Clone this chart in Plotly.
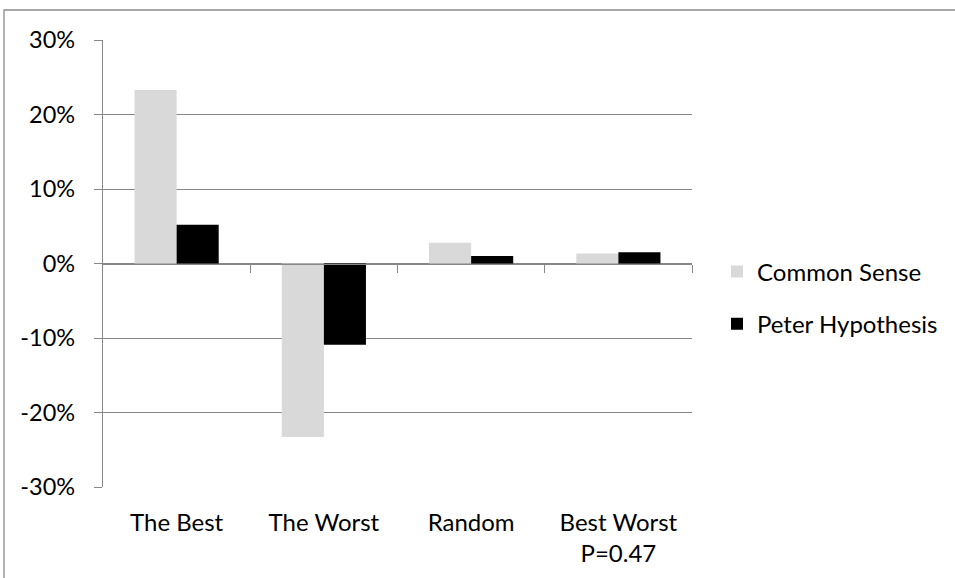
import plotly.graph_objects as go

categories = ["The Best", "The Worst", "Random", "Best Worst<br>P=0.47"]
common_sense = [0.233, -0.233, 0.028, 0.0135]
peter_hypothesis = [0.052, -0.109, 0.010, 0.015]
series_names = ["Common Sense", "Peter Hypothesis"]
y_ticks = [-0.3, -0.2, -0.1, 0.0, 0.1, 0.2, 0.3]
y_tick_labels = ["-30%", "-20%", "-10%", "0%", "10%", "20%", "30%"]

FONT = "Lato"
FS = 24
GRID = "#878787"

fig = go.Figure()
fig.add_trace(go.Bar(x=categories, y=common_sense, name=series_names[0],
                     marker=dict(color="#d9d9d9", line=dict(width=0)),
                     legendgroup="a"))
fig.add_trace(go.Bar(x=categories, y=peter_hypothesis, name=series_names[1],
                     marker=dict(color="#000000", line=dict(width=0)),
                     legendgroup="b"))
# invisible helper trace for the zero-line axis with boundary ticks
fig.add_trace(go.Scatter(x=[-0.5, 3.5], y=[0, 0], xaxis="x2", mode="lines",
                         line=dict(width=0), showlegend=False, hoverinfo="skip"))

L, R, T, B = 103, 263, 40, 91
pw = 955 - L - R
ph = 578 - T - B

fig.update_layout(
    width=955, height=578,
    margin=dict(l=L, r=R, t=T, b=B, pad=0),
    paper_bgcolor="white", plot_bgcolor="white",
    barmode="group", bargap=1.5 / 3.5, bargroupgap=0,
    font=dict(family=FONT, size=FS, color="#000000"),
    showlegend=True,
    legend=dict(x=(717 - L) / pw, y=(578 - B - 298) / ph, xanchor="left", yanchor="middle",
                traceorder="grouped", tracegroupgap=18,
                font=dict(family=FONT, size=FS, color="#000000"),
                itemwidth=30, bgcolor="rgba(0,0,0,0)"),
    xaxis=dict(showline=False, showgrid=False, ticks="", zeroline=False,
               tickfont=dict(family=FONT, size=FS), ticklabelstandoff=19),
    xaxis2=dict(overlaying="x", anchor="free", position=0.5, range=[-0.5, 3.5],
                showline=True, linecolor=GRID, linewidth=1.3,
                tickmode="array", tickvals=[0.5, 1.5, 2.5, 3.5],
                ticks="outside", ticklen=8, tickcolor=GRID, tickwidth=1.3,
                showticklabels=False, showgrid=False, zeroline=False, side="bottom"),
    yaxis=dict(range=[-0.3, 0.3], tickmode="array", tickvals=y_ticks, ticktext=y_tick_labels,
               showgrid=True, gridcolor=GRID, gridwidth=1.3, zeroline=False,
               showline=True, linecolor=GRID, linewidth=1.3,
               ticks="outside", ticklen=8, tickcolor=GRID, tickwidth=1.3,
               tickfont=dict(family=FONT, size=23.5), ticklabelstandoff=14),
    shapes=[dict(type="rect", xref="paper", yref="paper",
                 x0=(4 - L) / pw, x1=(975 - L) / pw,
                 y0=(578 - B - 600) / ph, y1=(578 - B - 10) / ph,
                 line=dict(color="#8c8c8c", width=1.3), fillcolor="rgba(0,0,0,0)",
                 layer="below")],
)

fig.write_html("out.html", config={"displayModeBar": False},
               post_script="document.body.style.margin='0';")
